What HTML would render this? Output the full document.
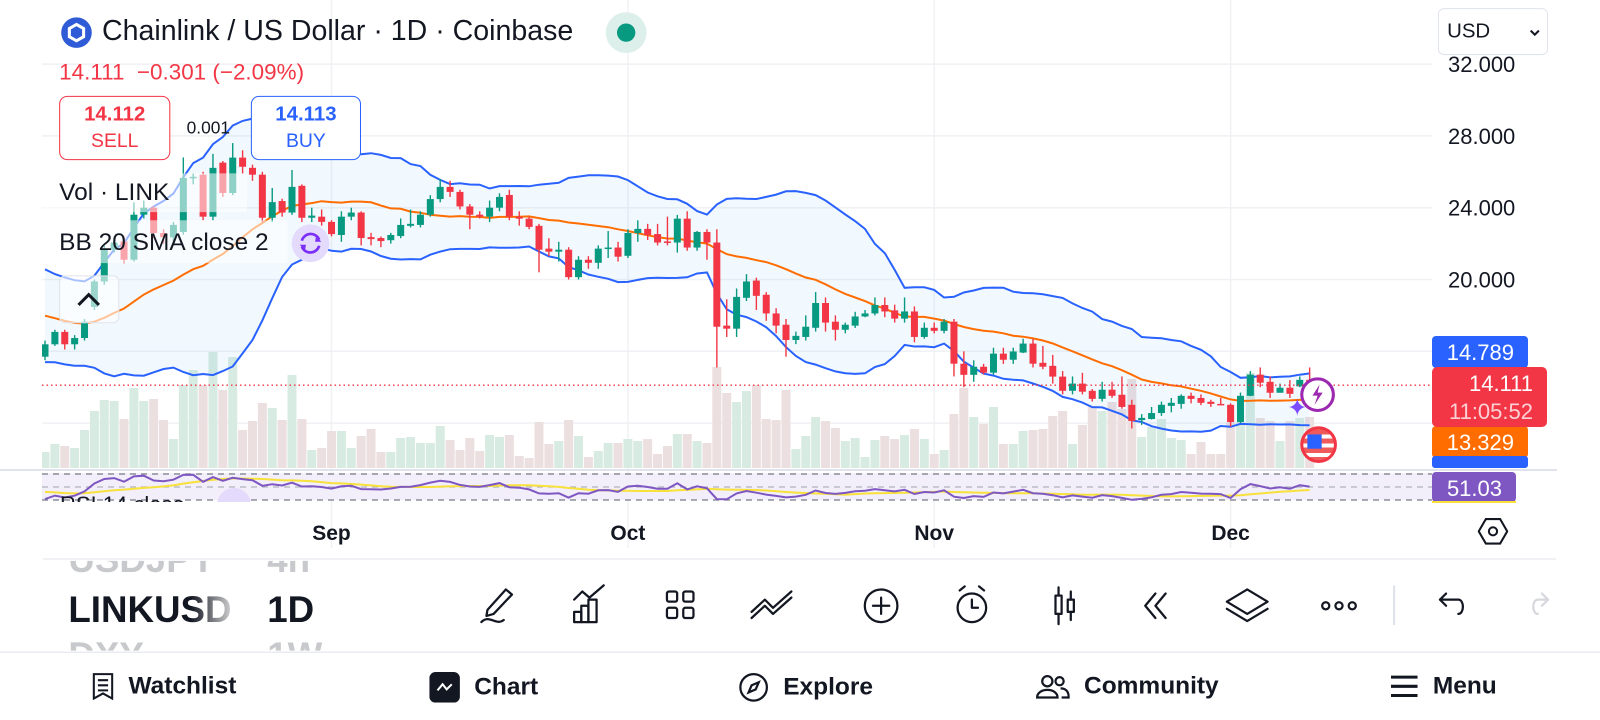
<!DOCTYPE html>
<html><head><meta charset="utf-8">
<style>
html,body{margin:0;padding:0;background:#fff;width:1600px;height:720px;overflow:hidden;font-family:"Liberation Sans",Arial,sans-serif;color:#131722}
#chart{position:absolute;left:0;top:0}
#ui{position:absolute;left:0;top:0;width:1569px;height:706px;transform:scale(1.0198);transform-origin:0 0}
.a{position:absolute;white-space:nowrap}
.box{position:absolute;border-radius:8px;background:#fff;text-align:center;box-sizing:border-box}
.nav{position:absolute;top:659px;font-size:24px;font-weight:bold;display:flex;align-items:center;gap:14px}
</style></head><body>
<svg id="chart" width="1600" height="720" xmlns="http://www.w3.org/2000/svg">
<defs><clipPath id="plot"><rect x="42" y="0" width="1358" height="469"/></clipPath>
<clipPath id="rsiclip"><rect x="42" y="472" width="1390" height="30"/></clipPath></defs>
<g id="grid"></g>
<g id="vol" clip-path="url(#plot)"></g>
<g id="bb" clip-path="url(#plot)"></g>
<g id="candles" clip-path="url(#plot)"></g>
<g id="rsi"></g>
<g id="axes"></g>
</svg>

<div id="ui">
 <div class="a" style="left:42px;top:170px;width:200px;height:38px;background:rgba(255,255,255,0.55)"></div>
 <div class="a" style="left:42px;top:216px;width:240px;height:42px;background:rgba(255,255,255,0.55)"></div>
 <div class="a" style="left:60px;top:17px;width:30px;height:30px;border-radius:50%;background:#2f5bd6"><svg width="30" height="30"><polygon points="15,7 22,11 22,19 15,23 8,19 8,11" fill="none" stroke="#fff" stroke-width="3"/></svg></div>
 <div class="a" style="left:100px;top:14px;font-size:28px">Chainlink / US Dollar · 1D · Coinbase</div>
 <div class="a" style="left:594px;top:12px;width:40px;height:40px;border-radius:50%;background:#dcefeb"><div style="position:absolute;left:11px;top:11px;width:18px;height:18px;border-radius:50%;background:#089981"></div></div>
 <div class="a" style="left:58px;top:58px;font-size:22px;color:#f23645">14.111 &nbsp;−0.301 (−2.09%)</div>
 <div class="box" style="left:58px;top:94px;width:109px;height:63px;border:1px solid #f23645;color:#f23645"><div style="font-weight:bold;font-size:20px;margin-top:6px">14.112</div><div style="font-size:19px;margin-top:4px">SELL</div></div>
 <div class="a" style="left:183px;top:116px;font-size:17px">0.001</div>
 <div class="box" style="left:246px;top:94px;width:108px;height:63px;border:1px solid #2962ff;color:#2962ff"><div style="font-weight:bold;font-size:20px;margin-top:6px">14.113</div><div style="font-size:19px;margin-top:4px">BUY</div></div>
 <div class="a" style="left:58px;top:175px;font-size:24px">Vol · LINK</div>
 <div class="a" style="left:58px;top:224px;font-size:24px">BB 20 SMA close 2</div>
 <div class="a" style="left:286px;top:220px;width:37px;height:37px;border-radius:50%;background:#e3dafc"><svg width="37" height="37"><path d="M10 16 A9 9 0 0 1 27 15" fill="none" stroke="#7b2ff7" stroke-width="2.6"/><path d="M27 21 A9 9 0 0 1 10 22" fill="none" stroke="#7b2ff7" stroke-width="2.6"/><polygon points="24,11 29,17 23,17" fill="#7b2ff7"/><polygon points="13,26 8,20 14,20" fill="#7b2ff7"/></svg></div>
 <div class="a" style="left:58px;top:270px;width:57px;height:45px;border:1px solid #e0e3eb;border-radius:6px;background:rgba(255,255,255,0.6)"><svg width="57" height="45"><polyline points="18,28 28,18 38,28" fill="none" stroke="#131722" stroke-width="3"/></svg></div>
 <div class="a" style="left:1410px;top:8px;width:108px;height:46px;border:1px solid #e0e3eb;border-radius:6px;background:#fff;box-sizing:border-box"><span style="position:absolute;left:8px;top:11px;font-size:20px">USD</span><svg style="position:absolute;left:88px;top:18px" width="12" height="10"><polyline points="2,3 6,7 10,3" fill="none" stroke="#131722" stroke-width="2"/></svg></div>
 <div class="a" style="left:1275px;top:370px;width:34px;height:34px;border-radius:50%;border:3px solid #9c27b0;box-sizing:border-box;background:#fff"><svg width="28" height="28"><polygon points="16,4 9,15 14,15 11,24 19,12 14,12" fill="#9c27b0"/></svg></div>
 <div class="a" style="left:1262px;top:386px;color:#7c4dff;font-size:24px">✦</div>
 <div class="a" style="left:1275px;top:418px;width:36px;height:36px;border-radius:50%;border:3px solid #f23645;box-sizing:border-box;overflow:hidden;background:repeating-linear-gradient(#f05a5a 0 5px,#fff 5px 9px)"><div style="width:14px;height:14px;background:#2962ff;margin:5px 0 0 4px"></div></div>
 <div class="a" style="left:1449px;top:507px"><svg width="30" height="28"><polygon points="8,2 22,2 29,14 22,26 8,26 1,14" fill="none" stroke="#131722" stroke-width="2"/><circle cx="15" cy="14" r="4" fill="none" stroke="#131722" stroke-width="2"/></svg></div>

 <div class="a" style="left:60px;top:550px;width:200px;height:88px;overflow:hidden">
  <div style="position:absolute;left:7px;top:-22px;font-size:36px;font-weight:bold;color:#c8c9cd">USDJPY</div>
  <div style="position:absolute;left:7px;top:27px;font-size:36px;font-weight:bold;background:linear-gradient(90deg,#131722 75%,#d0d0d0);-webkit-background-clip:text;color:transparent">LINKUSD</div>
  <div style="position:absolute;left:7px;top:72px;font-size:36px;font-weight:bold;color:#c8c9cd">DXY</div>
 </div>
 <div class="a" style="left:262px;top:550px;width:80px;height:88px;overflow:hidden">
  <div style="position:absolute;left:0;top:-22px;font-size:36px;font-weight:bold;color:#c8c9cd">4h</div>
  <div style="position:absolute;left:0;top:27px;font-size:36px;font-weight:bold">1D</div>
  <div style="position:absolute;left:0;top:72px;font-size:36px;font-weight:bold;color:#c8c9cd">1W</div>
 </div>
 <svg class="a" style="left:0;top:570px" width="1569" height="50" fill="none" stroke="#131722" stroke-width="2.2" stroke-linecap="round" stroke-linejoin="round">
  <g><path d="M478 28 L496 8 L502 13 L484 32 L477 34 Z"/><path d="M472 40 C480 32 486 44 494 38"/></g>
  <g><path d="M563 18 L571 10 L578 16 L592 4"/><rect x="563" y="30" width="7" height="10"/><rect x="570" y="24" width="7" height="16"/><rect x="577" y="18" width="8" height="22"/></g>
  <g><rect x="654" y="10" width="10" height="10" rx="2"/><rect x="670" y="10" width="10" height="10" rx="2"/><rect x="654" y="26" width="10" height="10" rx="2"/><rect x="670" y="26" width="10" height="10" rx="2"/></g>
  <g><path d="M737 30 L750 18 L758 26 L776 10"/><path d="M737 36 L750 24 L758 32 L776 16"/></g>
  <g><circle cx="864" cy="24" r="16"/><path d="M864 16 V32 M856 24 H872"/></g>
  <g><circle cx="953" cy="26" r="14"/><path d="M953 18 V26 H959 M941 9 L946 5 M965 9 L960 5"/></g>
  <g><rect x="1035" y="14" width="6" height="18"/><path d="M1038 6 V14 M1038 32 V42"/><rect x="1047" y="18" width="6" height="12"/><path d="M1050 10 V18 M1050 30 V38"/></g>
  <g><path d="M1133 12 L1123 24 L1133 36 M1143 12 L1133 24 L1143 36"/></g>
  <g><path d="M1223 8 L1243 20 L1223 32 L1203 20 Z"/><path d="M1203 27 L1223 39 L1243 27"/></g>
  <g><circle cx="1300" cy="24" r="3.5"/><circle cx="1313" cy="24" r="3.5"/><circle cx="1326" cy="24" r="3.5"/></g>
  <path d="M1367 5 V42" stroke="#e0e3eb"/>
  <g><path d="M1412 18 L1430 18 C1436 18 1436 32 1430 32"/><path d="M1418 12 L1412 18 L1418 24"/></g>
  <g stroke="#d6d8de"><path d="M1518 18 L1508 18 C1502 18 1502 32 1508 32"/><path d="M1512 12 L1518 18 L1512 24"/></g>
 </svg>
 <div class="a" style="left:0;top:639px;width:1569px;height:1px;background:#e0e3eb"></div>
 <div class="nav" style="left:90px"><svg width="22" height="28" fill="none" stroke="#131722" stroke-width="2"><path d="M2 2 H20 V26 L11 21 L2 26 Z M6 8 H16 M6 13 H16 M6 18 H16"/></svg>Watchlist</div>
 <div class="nav" style="left:421px"><svg width="30" height="30"><rect x="0" y="0" width="30" height="30" rx="6" fill="#131722"/><polyline points="8,18 13,12 17,17 22,12" fill="none" stroke="#fff" stroke-width="2"/></svg>Chart</div>
 <div class="nav" style="left:724px"><svg width="30" height="30" fill="none" stroke="#131722" stroke-width="2.2"><circle cx="15" cy="15" r="13"/><polygon points="20,10 17,17 10,20 13,13"/></svg>Explore</div>
 <div class="nav" style="left:1015px"><svg width="34" height="28" fill="none" stroke="#131722" stroke-width="2.2"><circle cx="12" cy="9" r="5"/><path d="M2 25 C2 15 22 15 22 25 Z"/><circle cx="24" cy="9" r="4"/><path d="M25 16 C30 16 33 19 33 25 H26"/></svg>Community</div>
 <div class="nav" style="left:1363px"><svg width="28" height="24" stroke="#131722" stroke-width="3"><path d="M1 3 H27 M1 12 H27 M1 21 H27"/></svg>Menu</div>
</div>

<script>
// ---- data (LINKUSD daily, Aug 3 – Dec 9) ----
const preCloses = [19.9,19.4,19.0,18.4,17.8,17.3,16.6,16.2,15.9,16.2,16.8,17.4,18.2,19.0,19.6,19.8,19.3,18.6,17.9];
const opens = [15.70,16.39,17.08,16.39,16.74,18.47,19.89,21.66,22.12,21.10,23.61,24.00,22.59,22.35,22.65,25.66,25.84,23.50,26.51,24.82,26.79,26.22,25.84,23.44,24.37,23.73,25.22,23.44,23.50,23.21,22.48,23.50,23.73,22.36,22.31,22.19,22.42,22.99,23.04,23.61,24.48,25.16,24.88,24.07,23.61,23.50,24.00,24.71,23.50,23.39,22.99,21.72,21.55,21.66,20.13,21.10,20.93,21.72,21.78,21.32,22.59,22.82,22.53,22.12,22.06,23.39,21.78,22.65,22.06,17.43,17.26,18.98,19.94,19.15,18.11,17.48,16.63,16.80,17.31,18.69,17.65,17.20,17.43,17.94,18.11,18.58,18.28,17.82,18.22,16.80,17.31,17.14,17.65,15.31,14.69,15.14,14.81,15.87,15.53,15.93,16.43,15.36,15.19,14.59,13.80,14.20,13.80,13.35,13.86,13.58,13.02,12.17,12.23,12.56,12.96,13.07,13.52,13.40,13.19,13.07,13.02,12.06,13.52,14.70,14.30,13.69,13.97,14.05,14.41];
const closes = [16.39,17.08,16.39,16.74,17.65,19.89,21.66,22.06,21.10,23.61,24.00,22.59,22.35,23.04,25.66,25.72,23.50,26.22,24.82,26.79,26.28,25.84,23.44,24.31,23.73,25.16,23.44,23.56,23.21,22.53,23.50,23.73,22.31,22.25,22.14,22.48,23.04,23.10,23.61,24.48,25.16,24.88,24.07,23.61,23.50,24.00,24.60,23.50,23.39,22.93,21.66,21.55,21.66,20.13,21.10,20.93,21.72,21.78,21.27,22.59,22.82,22.48,22.06,22.06,23.39,21.78,22.65,22.06,17.37,17.26,19.03,19.89,19.09,18.11,17.43,16.63,16.86,17.37,18.69,17.60,17.20,17.48,17.94,18.11,18.58,18.22,17.82,18.22,16.80,17.31,17.14,17.65,15.31,14.69,15.14,14.81,15.87,15.53,15.99,16.43,15.31,15.14,14.59,13.80,14.20,13.75,13.35,13.86,13.52,12.90,12.12,12.29,12.56,13.02,13.13,13.52,13.35,13.13,13.07,13.02,12.06,13.52,14.70,14.25,13.69,13.97,13.63,14.41,14.111];
const highs = [16.6,17.2,17.2,16.9,17.8,20.0,21.9,22.4,22.4,24.3,24.4,24.1,22.8,23.2,26.8,25.9,26.0,27.0,26.6,27.6,27.2,26.4,26.0,25.1,24.5,26.1,25.3,24.0,23.9,23.3,23.8,24.0,23.8,22.6,22.4,22.6,23.4,23.9,23.8,24.7,25.6,25.5,25.0,24.2,23.8,24.4,24.8,25.0,23.8,23.5,23.1,22.3,22.1,21.8,21.3,21.3,21.9,22.7,22.1,22.8,23.3,23.1,23.1,23.5,23.6,23.8,22.7,22.8,22.8,18.9,19.5,20.3,20.1,19.3,18.4,17.8,17.1,18.0,19.3,19.0,18.0,17.6,18.2,18.3,19.0,19.0,18.6,19.0,18.5,17.6,17.6,17.8,17.8,16.0,15.5,15.3,16.2,16.2,16.2,16.7,16.7,16.3,15.8,14.9,14.6,14.8,13.9,14.3,14.3,14.6,13.3,12.5,12.9,13.2,13.4,13.6,13.7,13.6,13.3,13.4,13.1,13.7,14.9,15.1,14.6,14.2,14.4,14.6,15.1];
const lows = [15.5,16.3,16.1,16.1,16.6,18.3,19.7,21.5,20.9,21.0,23.4,22.3,22.0,22.1,22.5,25.3,23.3,23.3,24.6,24.7,25.9,25.5,23.2,23.2,23.5,23.6,23.2,23.2,23.0,22.4,22.1,23.3,21.9,21.9,21.8,22.0,22.3,22.9,22.9,23.5,24.3,24.6,23.9,22.8,23.4,23.2,23.8,23.3,23.0,22.8,20.4,21.3,21.0,20.0,20.0,20.6,20.6,21.2,21.0,21.2,22.1,22.2,21.9,21.9,21.5,21.6,21.6,21.1,15.1,16.8,16.8,18.8,18.3,17.7,17.0,15.7,16.4,16.6,17.1,17.1,16.6,17.0,17.3,17.9,18.0,17.9,17.6,17.6,16.5,16.7,17.0,17.0,14.6,14.0,14.3,14.7,14.7,15.3,15.3,15.9,15.1,15.0,14.2,13.6,13.6,13.6,13.2,13.2,13.4,12.8,11.7,11.9,12.2,12.4,12.6,12.8,13.1,13.0,12.9,13.0,11.8,12.0,13.5,14.0,13.4,13.7,13.4,14.0,14.0];
const volumes = [16,24,22,20,38,57,68,67,49,80,67,69,48,29,83,98,83,116,78,111,38,47,65,60,48,93,49,18,20,37,37,20,32,39,16,16,30,31,25,25,42,28,18,30,17,33,31,
33,12,10,46,24,27,48,32,11,17,25,25,29,27,29,14,22,34,34,27,25,101,75,66,77,83,49,48,78,19,32,51,47,40,27,30,11,28,32,29,33,39,29,14,18,54,
80,51,44,61,24,24,37,38,39,52,57,24,43,62,57,66,59,89,31,41,49,30,28,14,26,14,14,46,46,95,50,47,27,47,50,51];
const monthLabels = ["Sep","Oct","Nov","Dec"];
const monthIndex = [29,59,90,120];
const priceTicks = [32,28,24,20];
const priceTickLabels = ["32.000","28.000","24.000","20.000"];
const lastPrice = 14.111;

// ---- scales ----
const X0 = 45, STEP = 9.88;
const xScale = i => X0 + i*STEP;
const yScale = p => 279.5 - (p-20)*17.95;
const VOL_BASE = 468;
const vScale = v => v*1.0;
const rsiY = r => 487 - (r-50)*0.65;

const NS="http://www.w3.org/2000/svg";
function mk(tag, attrs, parent){const e=document.createElementNS(NS,tag);for(const k in attrs)e.setAttribute(k,attrs[k]);parent.appendChild(e);return e;}
const gGrid=document.getElementById('grid'),gVol=document.getElementById('vol'),gBB=document.getElementById('bb'),gC=document.getElementById('candles'),gR=document.getElementById('rsi'),gA=document.getElementById('axes');

// grid
for(let k=-1;k<6;k++){const p=32-4*k;const y=yScale(p);if(y<0||y>468)continue;
 const l=mk('line',{x1:42,x2:1432,y1:y,y2:y,stroke:'#f0f1f4','stroke-width':1.5},gGrid);
 
 }
monthIndex.forEach(i=>{const l=mk('line',{x1:xScale(i),x2:xScale(i),y1:0,y2:548,stroke:'#f0f1f4','stroke-width':1.5},gGrid);
 
 });

// volume
volumes.forEach((v,i)=>{const up=closes[i]>=opens[i];const h=vScale(v);
 const r=mk('rect',{x:xScale(i)-4.5,y:VOL_BASE-h,width:9,height:h,fill:up?'#d8ebe2':'#ecdfe0'},gVol);
 
 });

// bollinger
const all=preCloses.concat(closes), off=preCloses.length;
const mid=[],upp=[],low=[];
for(let i=0;i<closes.length;i++){const j=i+off;const w=all.slice(j-19,j+1);const m=w.reduce((a,b)=>a+b,0)/20;
 const sd=Math.sqrt(w.reduce((a,b)=>a+(b-m)*(b-m),0)/20);mid.push([xScale(i),yScale(m)]);upp.push([xScale(i),yScale(m+2*sd)]);low.push([xScale(i),yScale(m-2*sd)]);}
const pts=a=>a.map(p=>p[0].toFixed(1)+','+p[1].toFixed(1)).join(' ');
const fill=mk('polygon',{points:pts(upp)+' '+pts(low.slice().reverse()),fill:'rgba(33,150,243,0.06)'},gBB);


const bu=mk('polyline',{points:pts(upp),fill:'none',stroke:'#2962ff','stroke-width':2},gBB);


const bl=mk('polyline',{points:pts(low),fill:'none',stroke:'#2962ff','stroke-width':2},gBB);


const bm=mk('polyline',{points:pts(mid),fill:'none',stroke:'#ff6d00','stroke-width':2},gBB);



// candles
closes.forEach((c,i)=>{const o=opens[i];const up=c>=o;const col=up?'#089981':'#f23645';const x=xScale(i);
 const g=mk('g',{},gC);
 
 
 mk('line',{x1:x,x2:x,y1:yScale(highs[i]),y2:yScale(lows[i]),stroke:col,'stroke-width':1.4},g);
 const t=yScale(Math.max(o,c)),b=yScale(Math.min(o,c));
 mk('rect',{x:x-3.5,y:t,width:7,height:Math.max(1.5,b-t),fill:col},g);});

// last price line
const lp=mk('line',{x1:42,x2:1432,y1:yScale(lastPrice),y2:yScale(lastPrice),stroke:'#f23645','stroke-width':1.3,'stroke-dasharray':'1.5 3'},gA);



// pane separator & RSI
mk('rect',{x:0,y:469,width:1557,height:2,fill:'#e0e3eb'},gA);
mk('rect',{x:42,y:473,width:1390,height:27,fill:'#f2eefa'},gR);
[474,487,500].forEach((y,k)=>mk('line',{x1:42,x2:1432,y1:y,y2:y,stroke:k==1?'#b0b3bb':'#787b86','stroke-width':1.2,'stroke-dasharray':'6 5'},gR));
const rsi=[];{let ag=0,al=0;for(let j=1;j<all.length;j++){const d=all[j]-all[j-1];const g=Math.max(d,0),l=Math.max(-d,0);
 if(j<=14){ag+=g/14;al+=l/14;}else{ag=(ag*13+g)/14;al=(al*13+l)/14;}
 if(j>=14)rsi[j]=al===0?100:100-100/(1+ag/al);}}
const rp=[],mp=[];for(let i=0;i<closes.length;i++){const j=i+off;rp.push([xScale(i),rsiY(rsi[j])]);
 const w=[];for(let k=j-13;k<=j;k++)if(rsi[k]!==undefined)w.push(rsi[k]);mp.push([xScale(i),rsiY(w.reduce((a,b)=>a+b,0)/w.length)]);}
const rg=mk('g',{'clip-path':'url(#rsiclip)'},gR);
const rm=mk('polyline',{points:pts(mp),fill:'none',stroke:'#f7e13a','stroke-width':2},rg);


const rl=mk('polyline',{points:pts(rp),fill:'none',stroke:'#7e57c2','stroke-width':2},rg);


const rt=mk('text',{x:60,y:512,'font-size':22,fill:'#131722'},rg);rt.textContent='RSI 14 close';


mk('circle',{cx:234,cy:505,r:17,fill:'#e3dafc'},rg);

// price axis
priceTicks.forEach((p,k)=>{const t=mk('text',{x:1448,y:yScale(p)+8,'font-size':22,fill:'#131722'},gA);t.textContent=priceTickLabels[k];
 
 });
// time axis
monthLabels.forEach((m,k)=>{const t=mk('text',{x:xScale(monthIndex[k]),y:540,'font-size':21,'font-weight':'bold','text-anchor':'middle',fill:'#131722'},gA);t.textContent=m;
 
 });
mk('rect',{x:43,y:558,width:1513,height:2,fill:'#f0f1f4'},gA);

// right labels
function lab(name,x,y,w,h,col,lines,r){const g=mk('g',{},gA);
 
 
 mk('rect',{x:x,y:y,width:w,height:h,rx:r||4,fill:col},g);
 lines.forEach((s,k)=>{const t=mk('text',{x:x+w-14,y:y+24+k*28,'font-size':22,'text-anchor':'end',fill:k?'#fbd0d4':'#fff'},g);t.textContent=s;});}
lab('band-upper-label',1432,336,96,32,'#2962ff',['14.789']);
lab('band-basis-label',1432,426,96,32,'#ff6d00',['13.329']);
mk('rect',{x:1432,y:456,width:96,height:12,rx:3,fill:'#2962ff'},gA);
lab('last-price-label',1432,367,115,60,'#f23645',['14.111','11:05:52'],5);
lab('rsi-value-label',1432,472,84,30,'#7e57c2',['51.03']);
mk('rect',{x:1432,y:501,width:84,height:2,fill:'#f7e13a'},gA);
</script>
</body></html>
